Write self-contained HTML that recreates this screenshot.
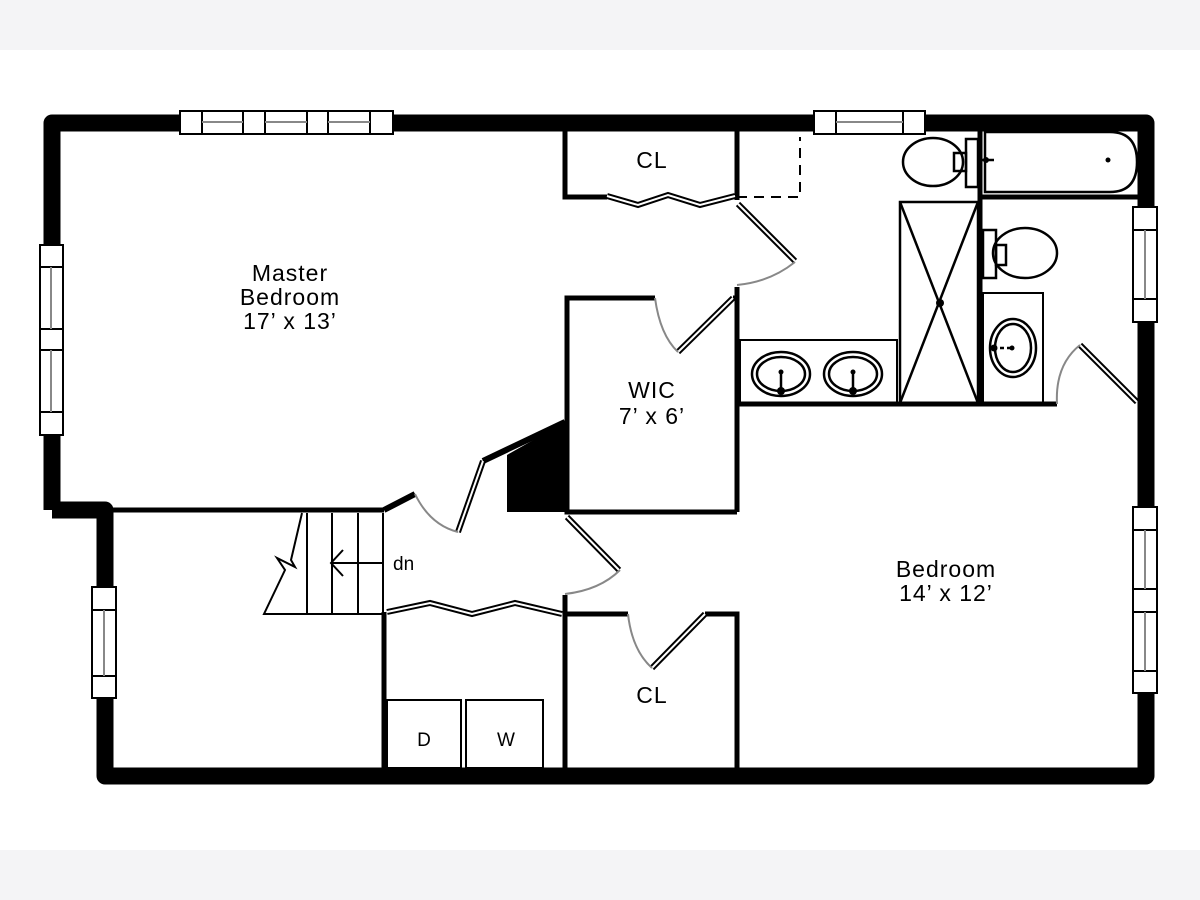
<!DOCTYPE html>
<html><head><meta charset="utf-8"><style>
html,body{margin:0;padding:0;background:#fff}
svg{display:block}
text{font-family:"Liberation Sans",sans-serif;fill:#000}
</style></head><body>
<svg width="1200" height="900" viewBox="0 0 1200 900" xmlns="http://www.w3.org/2000/svg">
<rect x="0" y="0" width="1200" height="900" fill="#fff"/>
<rect x="0" y="0" width="1200" height="50" fill="#f4f4f6"/>
<rect x="0" y="850" width="1200" height="50" fill="#f4f4f6"/>

<!-- outer walls -->
<g fill="none" stroke="#000" stroke-width="17" stroke-linejoin="round">
<polyline points="52,510 52,123 1146,123 1146,776 105,776 105,510 52,510"/>
</g>

<!-- windows -->
<g stroke="#000" stroke-width="2" fill="#fff">
<rect x="180" y="111" width="213" height="23"/>
<line x1="202" y1="111" x2="202" y2="134"/><line x1="243" y1="111" x2="243" y2="134"/>
<line x1="265" y1="111" x2="265" y2="134"/><line x1="307" y1="111" x2="307" y2="134"/>
<line x1="328" y1="111" x2="328" y2="134"/><line x1="370" y1="111" x2="370" y2="134"/>
<rect x="814" y="111" width="111" height="23"/>
<line x1="836" y1="111" x2="836" y2="134"/><line x1="903" y1="111" x2="903" y2="134"/>
<rect x="40" y="245" width="23" height="190"/>
<line x1="40" y1="267" x2="63" y2="267"/><line x1="40" y1="329" x2="63" y2="329"/>
<line x1="40" y1="350" x2="63" y2="350"/><line x1="40" y1="412" x2="63" y2="412"/>
<rect x="92" y="587" width="24" height="111"/>
<line x1="92" y1="610" x2="116" y2="610"/><line x1="92" y1="676" x2="116" y2="676"/>
<rect x="1133" y="207" width="24" height="115"/>
<line x1="1133" y1="230" x2="1157" y2="230"/><line x1="1133" y1="299" x2="1157" y2="299"/>
<rect x="1133" y="507" width="24" height="186"/>
<line x1="1133" y1="530" x2="1157" y2="530"/><line x1="1133" y1="589" x2="1157" y2="589"/>
<line x1="1133" y1="612" x2="1157" y2="612"/><line x1="1133" y1="671" x2="1157" y2="671"/>
</g>
<g stroke="#888" stroke-width="2">
<line x1="202" y1="122" x2="243" y2="122"/><line x1="265" y1="122" x2="307" y2="122"/><line x1="328" y1="122" x2="370" y2="122"/>
<line x1="836" y1="122" x2="903" y2="122"/>
<line x1="51" y1="267" x2="51" y2="329"/><line x1="51" y1="350" x2="51" y2="412"/>
<line x1="104" y1="610" x2="104" y2="676"/>
<line x1="1145" y1="230" x2="1145" y2="299"/>
<line x1="1145" y1="530" x2="1145" y2="589"/><line x1="1145" y1="612" x2="1145" y2="671"/>
</g>

<!-- interior walls -->
<g fill="none" stroke="#000" stroke-width="5">
<polyline points="565,130 565,197 607,197"/>
<line x1="737" y1="130" x2="737" y2="200"/>
<line x1="737" y1="287" x2="737" y2="512"/>
<polyline points="655,298 567,298 567,512 737,512"/>
<line x1="733" y1="298" x2="737" y2="298"/>
<line x1="60" y1="510" x2="384" y2="510"/>
<line x1="384" y1="510" x2="415" y2="494" stroke-width="6"/>
<line x1="483" y1="461" x2="565" y2="422" stroke-width="6"/>
<line x1="980" y1="130" x2="980" y2="405"/>
<line x1="980" y1="197" x2="1138" y2="197"/>
<line x1="737" y1="404" x2="1057" y2="404"/>
<line x1="384" y1="612" x2="384" y2="770"/>
<line x1="565" y1="595" x2="565" y2="770"/>
<polyline points="565,614 628,614"/>
<polyline points="705,614 737,614 737,770"/>
</g>
<polygon points="507,455 565,422 565,512 507,512" fill="#000"/>

<!-- dashed -->
<polyline points="737,197 800,197 800,137" fill="none" stroke="#000" stroke-width="2" stroke-dasharray="10,7"/>

<!-- double-line doors -->
<g fill="none" stroke-linejoin="miter">
<g stroke="#000" stroke-width="6">
<polyline points="607,196 638,205 668,195 700,205 735,196"/>
<line x1="738" y1="204" x2="795" y2="261"/>
<line x1="678" y1="352" x2="733" y2="298"/>
<line x1="483" y1="461" x2="458" y2="532"/>
<line x1="567" y1="517" x2="619" y2="570"/>
<polyline points="387,612 430,603 472,614 515,603 562,614"/>
<line x1="652" y1="668" x2="705" y2="614"/>
<line x1="1080" y1="345" x2="1137" y2="402"/>
</g>
<g stroke="#fff" stroke-width="2">
<polyline points="607,196 638,205 668,195 700,205 735,196"/>
<line x1="738" y1="204" x2="795" y2="261"/>
<line x1="678" y1="352" x2="733" y2="298"/>
<line x1="483" y1="461" x2="458" y2="532"/>
<line x1="567" y1="517" x2="619" y2="570"/>
<polyline points="387,612 430,603 472,614 515,603 562,614"/>
<line x1="652" y1="668" x2="705" y2="614"/>
<line x1="1080" y1="345" x2="1137" y2="402"/>
</g>
</g>
<!-- door arcs -->
<g fill="none" stroke="#888" stroke-width="2">
<path d="M795,262 Q770,282 737,285"/>
<path d="M655,298 Q660,335 678,352"/>
<path d="M415,494 Q430,525 458,532"/>
<path d="M620,570 Q600,590 565,594"/>
<path d="M628,614 Q632,650 652,668"/>
<path d="M1057,404 Q1055,365 1080,345"/>
</g>

<!-- fixtures -->
<g fill="none" stroke="#000" stroke-width="2.5">
<path d="M985,132 L1110,132 Q1137,132 1137,162 Q1137,192 1110,192 L985,192 Z"/>
<line x1="982" y1="160" x2="994" y2="160"/>
<ellipse cx="933" cy="162" rx="30" ry="24"/>
<rect x="966" y="139" width="12" height="48"/>
<rect x="954" y="153" width="12" height="18"/>
<rect x="900" y="202" width="78" height="201"/>
<line x1="900" y1="202" x2="978" y2="403"/>
<line x1="978" y1="202" x2="900" y2="403"/>
<rect x="740" y="340" width="157" height="63" stroke-width="2"/>
<ellipse cx="781" cy="374" rx="29" ry="22"/><ellipse cx="781" cy="374" rx="24" ry="17"/>
<ellipse cx="853" cy="374" rx="29" ry="22"/><ellipse cx="853" cy="374" rx="24" ry="17"/>
<line x1="781" y1="374" x2="781" y2="391"/><line x1="853" y1="374" x2="853" y2="391"/>
<ellipse cx="1025" cy="253" rx="32" ry="25"/>
<rect x="983" y="230" width="13" height="48"/>
<rect x="996" y="245" width="10" height="20"/>
<rect x="983" y="293" width="60" height="110" stroke-width="2"/>
<ellipse cx="1013" cy="348" rx="23" ry="29"/><ellipse cx="1013" cy="348" rx="18" ry="24"/>
<line x1="993" y1="348" x2="1012" y2="348" stroke-dasharray="4,3"/>
</g>
<g fill="#000">
<circle cx="1108" cy="160" r="2.5"/><circle cx="940" cy="303" r="4"/>
<circle cx="781" cy="372" r="2.5"/><circle cx="781" cy="391" r="4"/>
<circle cx="853" cy="372" r="2.5"/><circle cx="853" cy="391" r="4"/>
<circle cx="1012" cy="348" r="2.5"/><circle cx="994" cy="348" r="3.5"/>
<circle cx="986" cy="160" r="3"/>
</g>

<!-- stairs -->
<g fill="none" stroke="#000" stroke-width="2">
<line x1="307" y1="513" x2="307" y2="614"/>
<line x1="332" y1="513" x2="332" y2="614"/>
<line x1="358" y1="513" x2="358" y2="614"/>
<line x1="383" y1="513" x2="383" y2="614"/>
<polyline points="302,513 291,560 295,567 277,558 285,570 264,614 384,614"/>
<line x1="332" y1="563" x2="383" y2="563"/>
<polyline points="343,550 331,563 343,576"/>
</g>
<text x="393" y="570" font-size="19">dn</text>

<!-- D / W -->
<g fill="none" stroke="#000" stroke-width="2">
<rect x="387" y="700" width="74" height="68"/>
<rect x="466" y="700" width="77" height="68"/>
</g>
<text x="424" y="746" font-size="19" text-anchor="middle">D</text>
<text x="506" y="746" font-size="19" text-anchor="middle">W</text>

<!-- labels -->
<g font-size="23" text-anchor="middle" letter-spacing="1">
<text x="290" y="281">Master</text>
<text x="290" y="305">Bedroom</text>
<text x="290" y="329">17’ x 13’</text>
<text x="652" y="398">WIC</text>
<text x="652" y="424">7’ x 6’</text>
<text x="946" y="577">Bedroom</text>
<text x="946" y="601">14’ x 12’</text>
<text x="652" y="168">CL</text>
<text x="652" y="703">CL</text>
</g>
</svg>
</body></html>
